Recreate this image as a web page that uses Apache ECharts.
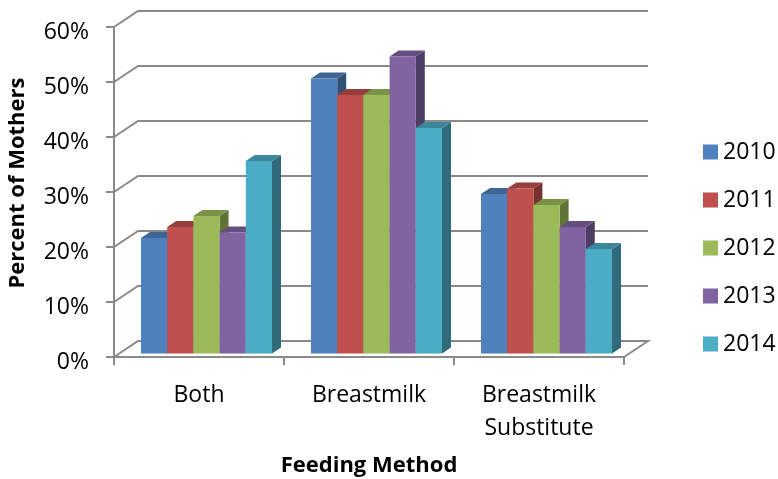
<!DOCTYPE html>
<html>
<head>
<meta charset="utf-8">
<script src="https://cdn.jsdelivr.net/npm/echarts@6/dist/echarts.min.js"></script>
<style>
  html, body { margin: 0; padding: 0; background: #ffffff; }
  #chart { width: 778px; height: 479px; }
</style>
</head>
<body>
<div id="chart"></div>
<script>
// Feeding method by year, percent of mothers
const categories = ['Both', 'Breastmilk', 'Breastmilk\nSubstitute'];
const years = ['2010', '2011', '2012', '2013', '2014'];
const values2010 = [21, 50, 29];
const values2011 = [23, 47, 30];
const values2012 = [25, 47, 27];
const values2013 = [22, 54, 23];
const values2014 = [35, 41, 19];
const yTicks = [0, 10, 20, 30, 40, 50, 60];

const yearValues = [values2010, values2011, values2012, values2013, values2014];
const colors = ['#4F81BD', '#C0504D', '#9BBB59', '#8064A2', '#4BACC6'];

const FONT = '"Open Sans", "Liberation Sans", sans-serif';
const LINE = '#8a8a8a';

// oblique projection of the chart box: back wall offset
const WALL_DX = 24, WALL_DY = -16;
// bar front plane offset and bar depth
const BAR_DX = 8, BAR_DY = -3.5;
const DEPTH_DX = 9, DEPTH_DY = -6;
const BAR_W = 26.2;
const GROUP_OFFSET = -58 - BAR_DX;

function shade(hex, f) {
  const n = parseInt(hex.slice(1), 16);
  const r = Math.round(((n >> 16) & 255) * f);
  const g = Math.round(((n >> 8) & 255) * f);
  const b = Math.round((n & 255) * f);
  return 'rgb(' + r + ',' + g + ',' + b + ')';
}

// back wall gridlines, left wall diagonals and floor outline
function renderWall(params, api) {
  const v = api.value(1);
  const cs = params.coordSys;
  const y = api.coord([0, v])[1];
  const left = cs.x, right = cs.x + cs.width;
  const pts = [
    [left, y],
    [left + WALL_DX, y + WALL_DY],
    [right + WALL_DX, y + WALL_DY]
  ];
  if (v === 0) pts.push([right, y]);
  return {
    type: 'polyline',
    shape: { points: pts },
    style: { stroke: LINE, lineWidth: 2, fill: null }
  };
}

function makeBarRenderer(k, color) {
  const top = shade(color, 0.78);
  const side = shade(color, 0.62);
  return function (params, api) {
    const idx = api.value(0);
    const v = api.value(1);
    const base = api.coord([idx, 0]);
    const head = api.coord([idx, v]);
    const x0 = base[0] + GROUP_OFFSET + BAR_DX + k * BAR_W;
    const x1 = x0 + BAR_W;
    const yb = base[1] + BAR_DY;
    const yt = head[1] + BAR_DY;
    return {
      type: 'group',
      children: [
        {
          type: 'polygon',
          shape: { points: [[x1, yb], [x1 + DEPTH_DX, yb + DEPTH_DY], [x1 + DEPTH_DX, yt + DEPTH_DY], [x1, yt]] },
          style: { fill: side }
        },
        {
          type: 'polygon',
          shape: { points: [[x0, yt], [x1, yt], [x1 + DEPTH_DX, yt + DEPTH_DY], [x0 + DEPTH_DX, yt + DEPTH_DY]] },
          style: { fill: top }
        },
        {
          type: 'rect',
          shape: { x: x0, y: yt, width: BAR_W, height: yb - yt },
          style: { fill: color }
        }
      ]
    };
  };
}

const series = [{
  type: 'custom',
  name: 'wall',
  silent: true,
  clip: false,
  z: 1,
  renderItem: renderWall,
  data: yTicks.map(v => [0, v])
}];

years.forEach((year, k) => {
  series.push({
    type: 'custom',
    name: year,
    clip: false,
    z: 2 + k,
    itemStyle: { color: colors[k] },
    renderItem: makeBarRenderer(k, colors[k]),
    data: yearValues[k].map((v, i) => [i, v])
  });
});

const chart = echarts.init(document.getElementById('chart'), null, { renderer: 'canvas' });
chart.setOption({
  animation: false,
  backgroundColor: '#ffffff',
  grid: { left: 114, top: 27, width: 510, height: 330, outerBoundsMode: 'none', containLabel: false },
  legend: {
    data: years,
    orient: 'vertical',
    left: 703,
    top: 136,
    padding: 0,
    icon: 'rect',
    itemWidth: 15,
    itemHeight: 15,
    itemGap: 16,
    textStyle: { fontFamily: FONT, fontSize: 23, color: '#000', lineHeight: 32 }
  },
  xAxis: {
    type: 'category',
    data: categories,
    boundaryGap: true,
    name: 'Feeding Method',
    nameLocation: 'middle',
    nameGap: 98,
    nameTextStyle: { fontFamily: FONT, fontSize: 22, fontWeight: 'bold', color: '#000', verticalAlign: 'top' },
    axisLine: { show: true, lineStyle: { color: LINE, width: 2 } },
    axisTick: { show: true, length: 8, alignWithLabel: false, lineStyle: { color: LINE, width: 2 } },
    axisLabel: { fontFamily: FONT, fontSize: 23, color: '#000', margin: 22, lineHeight: 33, interval: 0 },
    splitLine: { show: false }
  },
  yAxis: {
    type: 'value',
    min: 0,
    max: 60,
    interval: 10,
    axisLine: { show: true, lineStyle: { color: LINE, width: 2 } },
    axisTick: { show: true, length: 8, lineStyle: { color: LINE, width: 2 } },
    axisLabel: { fontFamily: FONT, fontSize: 23, color: '#000', margin: 25, formatter: '{value}%', verticalAlign: 'top', lineHeight: 10 },
    splitLine: { show: false }
  },
  graphic: [{
    type: 'text',
    x: 18,
    y: 183,
    rotation: Math.PI / 2,
    style: {
      text: 'Percent of Mothers',
      fontFamily: FONT,
      fontSize: 22,
      fontWeight: 'bold',
      fill: '#000',
      align: 'center',
      verticalAlign: 'middle'
    }
  }],
  series: series
});
</script>
</body>
</html>
